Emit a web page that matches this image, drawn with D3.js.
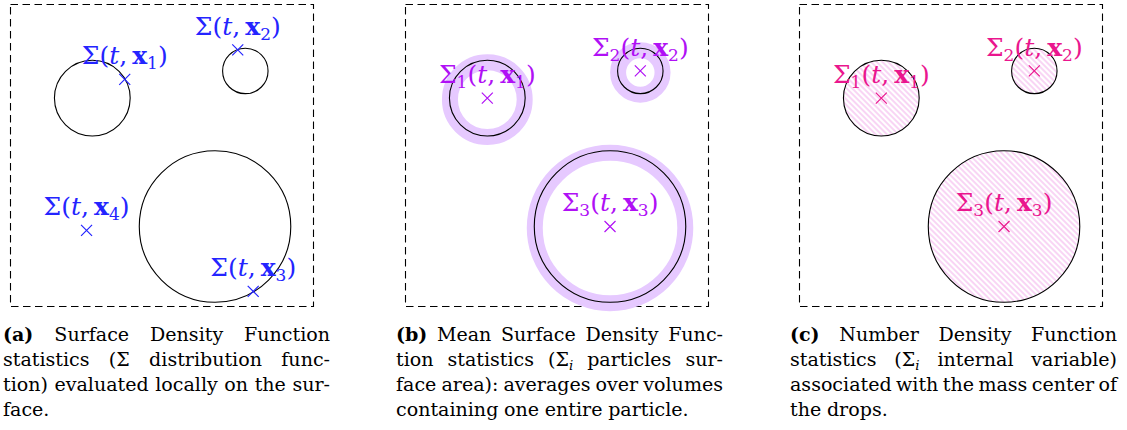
<!DOCTYPE html>
<html>
<head>
<meta charset="utf-8">
<script src="https://cdn.jsdelivr.net/npm/d3@7"></script>
<style>
  body { margin: 0; background: #fff; }
  svg { display: block; }
</style>
</head>
<body>
<div id="fig"></div>
<script>
// drops, in box units (box is 10 x 10, y pointing up)
var circleX = [2.7, 7.75, 6.75];
var circleY = [6.9, 7.8, 2.65];
var circleR = [1.25, 0.75, 2.5];

// panel (a): local points on the surfaces + one off them
var pointX = [3.77, 7.5, 8.01, 2.51];
var pointY = [7.52, 8.5, 0.5, 2.52];
var pointSub = ["1", "2", "3", "4"];

// panels (b) and (c): one value per drop
var dropSub = ["1", "2", "3"];

var captionA = [
  "(a) Surface Density Function",
  "statistics (Σ distribution func-",
  "tion) evaluated locally on the sur-",
  "face."
];
var captionB = [
  "(b) Mean Surface Density Func-",
  "tion statistics (Σ_i particles sur-",
  "face area): averages over volumes",
  "containing one entire particle."
];
var captionC = [
  "(c) Number Density Function",
  "statistics (Σ_i internal variable)",
  "associated with the mass center of",
  "the drops."
];

var width = 1127;
var height = 430;
var boxW = 303;
var boxH = 302;
var boxTop = 4.5;
var boxLeft = [10.5, 405.5, 799.5];
var capLeft = [3, 396, 790];
var capW = 327;
var capBase = 341;
var capStep = 25;

var serif = "'DejaVu Serif', serif";
var blue = "#2424ff";
var violet = "#b010f5";
var halo = "#e6c9ff";
var pink = "#ea168e";
var hatch = "#f0a2e8";

var x = d3.scaleLinear().domain([0, 10]).range([0, boxW]);
var y = d3.scaleLinear().domain([0, 10]).range([boxH, 0]);

var svg = d3.select("#fig").append("svg")
  .attr("width", width)
  .attr("height", height);

svg.append("defs").append("pattern")
  .attr("id", "nwlines")
  .attr("patternUnits", "userSpaceOnUse")
  .attr("width", 4)
  .attr("height", 10)
  .attr("patternTransform", "rotate(-45)")
  .append("line")
  .attr("x1", 2).attr("y1", 0)
  .attr("x2", 2).attr("y2", 10)
  .attr("stroke", hatch)
  .attr("stroke-width", 0.9);

// the last caption line of (b) is about 294px wide in the reference
var probe = svg.append("text")
  .attr("font-family", serif)
  .attr("font-size", 20)
  .text("containing one entire particle.");
var capSize = 20 * 294 / probe.node().getComputedTextLength();
probe.remove();

function drawBox(g)
{
  g.append("rect")
    .attr("x", 0)
    .attr("y", 0)
    .attr("width", boxW)
    .attr("height", boxH)
    .attr("fill", "none")
    .attr("stroke", "#000")
    .attr("stroke-width", 1.1)
    .attr("stroke-dasharray", "7.5,4.5");
}

function drawDrops(g, fill)
{
  g.selectAll("circle.drop")
    .data(circleX)
    .enter().append("circle")
    .attr("class", "drop")
    .attr("cx", function(d) { return x(d); })
    .attr("cy", function(d, i) { return y(circleY[i]); })
    .attr("r", function(d, i) { return x(circleR[i]); })
    .attr("fill", fill)
    .attr("stroke", "#000")
    .attr("stroke-width", 1.1);
}

function drawCross(g, px, py, color)
{
  var s = 5.5;
  g.append("path")
    .attr("d", "M" + (px - s) + "," + (py - s) + "L" + (px + s) + "," + (py + s) +
               "M" + (px - s) + "," + (py + s) + "L" + (px + s) + "," + (py - s))
    .attr("stroke", color)
    .attr("stroke-width", 1.2)
    .attr("fill", "none");
}

// Σ(t, x_k) or Σ_k(t, x_k)
function mathLabel(g, px, py, sigmaSub, xSub, color)
{
  var t = g.append("text")
    .attr("x", px)
    .attr("y", py - 15)
    .attr("text-anchor", "middle")
    .attr("font-family", serif)
    .attr("font-size", 25)
    .attr("fill", color);

  t.append("tspan").text("Σ");
  if (sigmaSub) {
    t.append("tspan").attr("font-size", 17).attr("dy", 5).text(sigmaSub);
    t.append("tspan").attr("dy", -5).text("(");
  } else {
    t.append("tspan").text("(");
  }
  t.append("tspan").attr("font-style", "italic").text("t");
  t.append("tspan").text(",\u2009");
  t.append("tspan").attr("font-weight", "bold").text("x");
  t.append("tspan").attr("font-size", 17).attr("dy", 5).text(xSub);
  t.append("tspan").attr("dy", -5).text(")");
}

function captionWord(g, word)
{
  var t = g.append("text")
    .attr("font-family", serif)
    .attr("font-size", capSize)
    .attr("fill", "#000");

  if (/^\([abc]\)$/.test(word)) {
    t.attr("font-weight", "bold").text(word);
  } else if (word.indexOf("Σ_") >= 0) {
    var parts = word.split("Σ_");
    t.append("tspan").text(parts[0] + "Σ");
    t.append("tspan").attr("font-size", capSize * 0.7).attr("font-style", "italic")
      .attr("dy", 4).text(parts[1]);
  } else {
    t.text(word);
  }
  return t;
}

// justified paragraph, last line set ragged
function drawCaption(g, lines)
{
  lines.forEach(function(line, li)
  {
    var words = line.split(" ");
    var nodes = words.map(function(w) { return captionWord(g, w); });
    var widths = nodes.map(function(n) { return n.node().getComputedTextLength(); });
    var total = d3.sum(widths);
    var gap = capSize * 0.3;
    if (li < lines.length - 1 && words.length > 1) {
      gap = (capW - total) / (words.length - 1);
    }
    var cx = 0;
    nodes.forEach(function(n, i)
    {
      n.attr("x", cx).attr("y", capBase + li * capStep);
      cx += widths[i] + gap;
    });
  });
}

var panels = [
  { caption: captionA },
  { caption: captionB },
  { caption: captionC }
];

panels.forEach(function(p, k)
{
  var g = svg.append("g")
    .attr("transform", "translate(" + boxLeft[k] + "," + boxTop + ")");

  drawBox(g);

  if (k == 0) {
    drawDrops(g, "none");
    pointX.forEach(function(px, i)
    {
      drawCross(g, x(px), y(pointY[i]), blue);
      mathLabel(g, x(px), y(pointY[i]), null, pointSub[i], blue);
    });
  }

  if (k == 1) {
    g.selectAll("circle.halo")
      .data(circleX)
      .enter().append("circle")
      .attr("class", "halo")
      .attr("cx", function(d) { return x(d); })
      .attr("cy", function(d, i) { return y(circleY[i]) + 1.5; })
      .attr("r", function(d, i) { return x(circleR[i]) - 0.5; })
      .attr("fill", "none")
      .attr("stroke", halo)
      .attr("stroke-width", 16);
    drawDrops(g, "none");
  }

  if (k == 2) {
    drawDrops(g, "url(#nwlines)");
  }

  if (k > 0) {
    var color = (k == 1) ? violet : pink;
    circleX.forEach(function(cx, i)
    {
      drawCross(g, x(cx), y(circleY[i]), color);
      mathLabel(g, x(cx), y(circleY[i]), dropSub[i], dropSub[i], color);
    });
  }

  var cg = svg.append("g")
    .attr("transform", "translate(" + capLeft[k] + ",0)");
  drawCaption(cg, p.caption);
});
</script>
</body>
</html>
